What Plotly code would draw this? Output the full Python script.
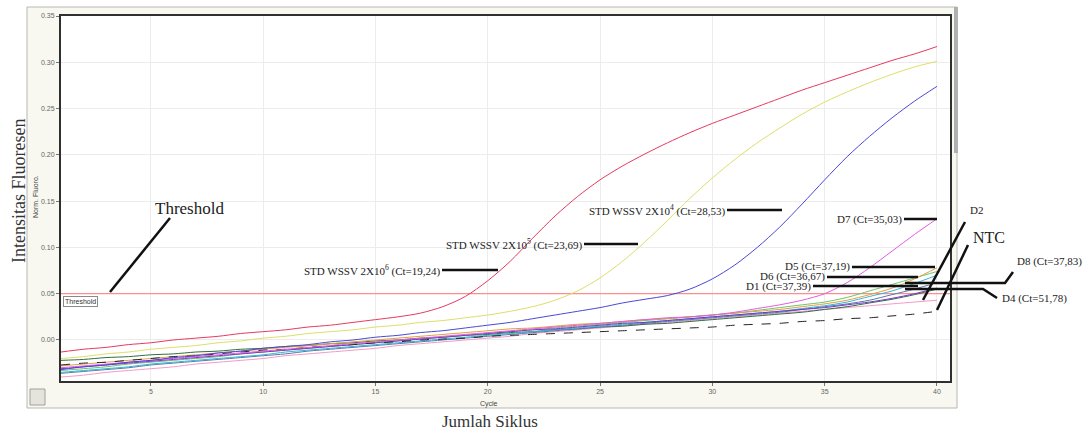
import plotly.graph_objects as go

# ---------------- data ----------------
cycles = list(range(1, 41))

std_1 = [-0.013, -0.010, -0.008, -0.005, -0.003, 0.000, 0.002, 0.004, 0.007, 0.009,
         0.011, 0.014, 0.016, 0.019, 0.022, 0.025, 0.029, 0.036, 0.047, 0.064,
         0.085, 0.110, 0.134, 0.155, 0.173, 0.188, 0.201, 0.213, 0.224, 0.234,
         0.243, 0.252, 0.261, 0.270, 0.278, 0.286, 0.294, 0.302, 0.309, 0.317]
std_2 = [-0.020, -0.018, -0.015, -0.013, -0.010, -0.008, -0.006, -0.003, -0.001, 0.002,
         0.004, 0.007, 0.009, 0.011, 0.014, 0.016, 0.019, 0.021, 0.024, 0.027,
         0.031, 0.036, 0.043, 0.053, 0.067, 0.085, 0.106, 0.129, 0.153, 0.175,
         0.195, 0.213, 0.229, 0.244, 0.257, 0.268, 0.278, 0.287, 0.295, 0.301]
std_3 = [-0.032, -0.029, -0.027, -0.024, -0.022, -0.019, -0.017, -0.014, -0.012, -0.009,
         -0.007, -0.005, -0.002, 0.000, 0.003, 0.005, 0.008, 0.010, 0.013, 0.016,
         0.019, 0.023, 0.027, 0.031, 0.035, 0.040, 0.044, 0.048, 0.055, 0.066,
         0.081, 0.100, 0.122, 0.147, 0.173, 0.198, 0.220, 0.240, 0.258, 0.274]
d7 = [-0.030, -0.028, -0.026, -0.024, -0.022, -0.020, -0.018, -0.016, -0.014, -0.012,
      -0.010, -0.008, -0.006, -0.004, -0.002, 0.000, 0.002, 0.004, 0.006, 0.008,
      0.010, 0.012, 0.014, 0.016, 0.018, 0.020, 0.022, 0.024, 0.025, 0.027,
      0.030, 0.034, 0.038, 0.043, 0.050, 0.062, 0.078, 0.096, 0.114, 0.131]
d5 = [-0.028, -0.026, -0.024, -0.022, -0.020, -0.018, -0.016, -0.014, -0.012, -0.010,
      -0.008, -0.006, -0.004, -0.002, 0.000, 0.002, 0.004, 0.006, 0.008, 0.010,
      0.012, 0.013, 0.015, 0.017, 0.018, 0.020, 0.022, 0.023, 0.025, 0.027,
      0.029, 0.031, 0.033, 0.036, 0.039, 0.043, 0.049, 0.056, 0.066, 0.078]
d6 = [-0.033, -0.031, -0.029, -0.026, -0.024, -0.022, -0.020, -0.018, -0.015, -0.013,
      -0.011, -0.009, -0.007, -0.005, -0.003, -0.001, 0.001, 0.003, 0.005, 0.007,
      0.009, 0.011, 0.013, 0.015, 0.017, 0.019, 0.021, 0.023, 0.025, 0.027,
      0.029, 0.032, 0.035, 0.038, 0.041, 0.046, 0.053, 0.060, 0.067, 0.074]
d1 = [-0.035, -0.033, -0.031, -0.029, -0.026, -0.024, -0.022, -0.020, -0.018, -0.016,
      -0.013, -0.011, -0.009, -0.007, -0.005, -0.003, -0.001, 0.001, 0.003, 0.005,
      0.007, 0.009, 0.011, 0.013, 0.015, 0.017, 0.019, 0.021, 0.023, 0.025,
      0.027, 0.029, 0.031, 0.034, 0.037, 0.041, 0.047, 0.053, 0.061, 0.070]
d8 = [-0.036, -0.034, -0.032, -0.030, -0.027, -0.025, -0.023, -0.021, -0.019, -0.017,
      -0.015, -0.012, -0.010, -0.008, -0.006, -0.004, -0.002, 0.000, 0.002, 0.004,
      0.006, 0.008, 0.010, 0.012, 0.014, 0.016, 0.018, 0.020, 0.022, 0.024,
      0.026, 0.028, 0.030, 0.033, 0.036, 0.039, 0.043, 0.049, 0.055, 0.062]
d4 = [-0.040, -0.038, -0.035, -0.033, -0.031, -0.029, -0.026, -0.024, -0.022, -0.020,
      -0.017, -0.015, -0.013, -0.011, -0.009, -0.006, -0.004, -0.002, 0.000, 0.002,
      0.004, 0.007, 0.009, 0.011, 0.013, 0.015, 0.017, 0.019, 0.021, 0.023,
      0.025, 0.027, 0.029, 0.031, 0.033, 0.035, 0.037, 0.039, 0.041, 0.043]
d2 = [-0.031, -0.029, -0.027, -0.025, -0.023, -0.021, -0.019, -0.017, -0.015, -0.013,
      -0.011, -0.009, -0.007, -0.005, -0.003, -0.001, 0.001, 0.003, 0.005, 0.007,
      0.009, 0.011, 0.012, 0.014, 0.016, 0.018, 0.019, 0.021, 0.023, 0.025,
      0.027, 0.029, 0.031, 0.033, 0.035, 0.038, 0.041, 0.045, 0.050, 0.056]
d3 = [-0.022, -0.021, -0.019, -0.018, -0.016, -0.015, -0.013, -0.012, -0.010, -0.009,
      -0.007, -0.006, -0.004, -0.003, -0.001, 0.000, 0.002, 0.003, 0.005, 0.006,
      0.008, 0.009, 0.011, 0.012, 0.014, 0.015, 0.017, 0.018, 0.020, 0.022,
      0.024, 0.026, 0.028, 0.030, 0.033, 0.036, 0.040, 0.044, 0.049, 0.055]
ntc = [-0.027, -0.025, -0.024, -0.022, -0.020, -0.018, -0.017, -0.015, -0.013, -0.011,
       -0.010, -0.008, -0.006, -0.005, -0.003, -0.002, 0.000, 0.001, 0.002, 0.004,
       0.005, 0.006, 0.007, 0.008, 0.009, 0.010, 0.011, 0.012, 0.013, 0.014,
       0.016, 0.017, 0.018, 0.020, 0.021, 0.023, 0.024, 0.026, 0.028, 0.031]

threshold_value = 0.05
x_ticks = [5, 10, 15, 20, 25, 30, 35, 40]
y_ticks = [0.00, 0.05, 0.10, 0.15, 0.20, 0.25, 0.30, 0.35]

series = [
    ("D4", d4, "#f29ac8", None),
    ("D3", d3, "#2f6f3f", None),
    ("D8", d8, "#5a78a8", None),
    ("D1", d1, "#35b5d5", None),
    ("D6", d6, "#6cc46c", None),
    ("D5", d5, "#e0a040", None),
    ("D2", d2, "#7a35c8", None),
    ("NTC", ntc, "#222222", "dash"),
    ("D7", d7, "#e35be0", None),
    ("STD 3", std_3, "#4848d6", None),
    ("STD 2", std_2, "#dede6a", None),
    ("STD 1", std_1, "#e6395f", None),
]

# ---------------- figure ----------------
W, H = 1089, 432
L, R, T, B = 61, 950, 16, 381


def PX(x):
    return (x - L) / (R - L)


def PY(y):
    return (B - y) / (B - T)


fig = go.Figure()
fig.add_trace(go.Scatter(x=[1, 40.58], y=[threshold_value, threshold_value], mode="lines",
                         line=dict(color="#ff7878", width=1), showlegend=False,
                         hoverinfo="skip"))
for name, vals, col, dash in series:
    fig.add_trace(go.Scatter(x=cycles, y=vals, mode="lines", name=name,
                             line=dict(color=col, width=1, dash=dash, shape="spline",
                                       smoothing=0.8),
                             showlegend=False, hoverinfo="skip"))

serif = "Liberation Serif"
sans = "Liberation Sans"

shapes = [
    # outer panel
    dict(type="rect", xref="paper", yref="paper", x0=PX(27), x1=PX(957), y0=PY(408), y1=PY(7),
         fillcolor="#f8f8f1", line=dict(color="#b8b8b0", width=1), layer="below"),
    dict(type="rect", xref="paper", yref="paper", x0=0, x1=1, y0=0, y1=1,
         fillcolor="#ffffff", line=dict(width=0), layer="below"),
    # scroll-bar like strip at right
    dict(type="rect", xref="paper", yref="paper", x0=PX(954), x1=PX(958), y0=PY(153), y1=PY(7),
         fillcolor="#b0b0b0", line=dict(width=0)),
    # small icon bottom-left
    dict(type="rect", xref="paper", yref="paper", x0=PX(30), x1=PX(45), y0=PY(405), y1=PY(389),
         fillcolor="#e4e4dc", line=dict(color="#a0a0a0", width=1)),
]


def seg(pts, width=2.5):
    path = "M " + " L ".join(f"{PX(x):.5f},{PY(y):.5f}" for x, y in pts)
    return dict(type="path", xref="paper", yref="paper", path=path,
                line=dict(color="#111111", width=width))


leaders = [
    [(170, 218), (110, 292)],
    [(442, 270), (498, 270)],
    [(584, 244), (638, 244)],
    [(727, 210), (782, 210)],
    [(904, 219), (937, 219)],
    [(852, 267), (935, 267)],
    [(827, 277), (918, 277)],
    [(813, 286), (918, 286)],
    [(905, 289), (983, 289), (997, 298)],
    [(905, 283), (1005, 283), (1013, 272)],
    [(965, 222), (923, 300)],
    [(968, 245), (937, 310)],
]
for p in leaders:
    shapes.append(seg(p))

annotations = []


def ann(text, x, y, size=11, xanchor="right", yanchor="middle", family=serif, color="#222222",
        angle=0, **kw):
    annotations.append(dict(text=text, x=PX(x), y=PY(y), xref="paper", yref="paper",
                            showarrow=False, xanchor=xanchor, yanchor=yanchor,
                            textangle=angle, font=dict(family=family, size=size, color=color),
                            **kw))


ann("Threshold", 153, 208, size=17, xanchor="left")
ann("Threshold", 63, 301, size=7, xanchor="left", family=sans, color="#333333",
    bordercolor="#8a8a8a", borderwidth=1, borderpad=1, bgcolor="#ffffff")
ann("STD WSSV 2X10<sup>6</sup> (Ct=19,24)", 442, 270)
ann("STD WSSV 2X10<sup>5</sup> (Ct=23,69)", 584, 244)
ann("STD WSSV 2X10<sup>4</sup> (Ct=28,53)", 727, 210)
ann("D7 (Ct=35,03)", 904, 219)
ann("D5 (Ct=37,19)", 852, 266)
ann("D6 (Ct=36,67)", 827, 276)
ann("D1 (Ct=37,39)", 813, 286)
ann("D8 (Ct=37,83)", 1015, 261, xanchor="left")
ann("D4 (Ct=51,78)", 1000, 298, xanchor="left")
ann("D2", 968, 210, xanchor="left")
ann("NTC", 971, 237, size=16, xanchor="left")
ann("Cycle", 489, 404, size=7, xanchor="center", family=sans, color="#444444")
ann("Jumlah Siklus", 490, 421, size=17, xanchor="center", color="#333333")
ann("Norm. Fluoro.", 35, 197, size=7, xanchor="center", family=sans, color="#444444", angle=-90)
ann("Intensitas Fluoresen", 19, 191, size=18, xanchor="center", color="#333333", angle=-90)

fig.update_layout(
    width=W, height=H,
    margin=dict(l=L, r=W - R, t=T, b=H - B, pad=0),
    paper_bgcolor="#ffffff",
    plot_bgcolor="rgba(0,0,0,0)",
    shapes=shapes,
    annotations=annotations,
    xaxis=dict(range=[1, 40.58], tickvals=x_ticks, showgrid=True, gridcolor="#ececec",
               gridwidth=1, zeroline=False, showline=True, linecolor="#303030", linewidth=2,
               mirror=True, ticks="outside", ticklen=3, tickcolor="#777777",
               tickfont=dict(family=sans, size=7, color="#666666")),
    yaxis=dict(range=[-0.0443, 0.35], tickvals=y_ticks, tickformat=".2f", showgrid=True,
               gridcolor="#ececec", gridwidth=1, zeroline=False, showline=True,
               linecolor="#303030", linewidth=2, mirror=True, ticks="outside", ticklen=3,
               tickcolor="#777777", tickfont=dict(family=sans, size=7, color="#666666")),
)

fig.write_html("out.html")
